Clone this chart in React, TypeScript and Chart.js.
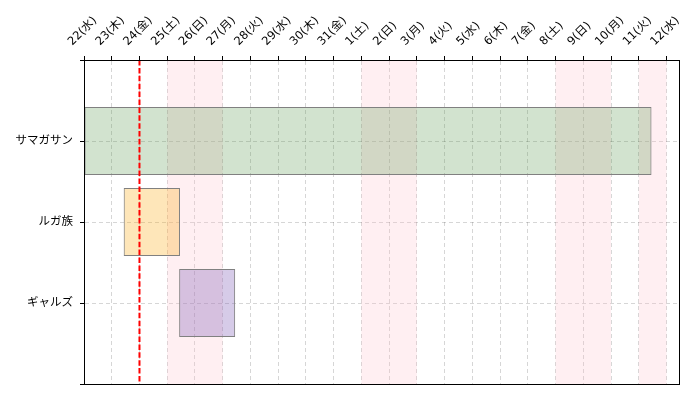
import { useEffect, useRef } from 'react';
import { Chart, registerables } from 'chart.js';

Chart.register(...registerables);

// Day columns shown along the top axis
const dayLabels = [
  '22(水)', '23(木)', '24(金)', '25(土)', '26(日)', '27(月)', '28(火)', '29(水)',
  '30(木)', '31(金)', '1(土)', '2(日)', '3(月)', '4(火)', '5(水)', '6(木)',
  '7(金)', '8(土)', '9(日)', '10(月)', '11(火)', '12(水)',
];
// Days off (shaded columns)
const offDays = ['25(土)', '26(日)', '1(土)', '2(日)', '8(土)', '9(日)', '11(火)'];
// Current day marker
const todayLabel = '24(金)';
// Timeline end, in days from the first column
const axisEnd = 21.45;

// Schedule rows: start / end in days from the first column
const taskNames = ['サマガサン', 'ルガ族', 'ギャルズ'];
const taskStart = [0, 1.43, 3.43];
const taskEnd = [20.46, 3.46, 5.45];
const taskColors = ['rgba(75,143,63,0.25)', 'rgba(252,172,22,0.3)', 'rgba(118,82,178,0.3)'];

const FONT = '"DejaVu Sans", "Noto Sans CJK JP", sans-serif';
const FONT_SIZE = 11.5;

const offDayBands = {
  id: 'offDayBands',
  beforeDatasetsDraw(chart: any) {
    const { ctx, chartArea: a, scales } = chart;
    const x = scales.x;
    ctx.save();
    ctx.fillStyle = 'rgba(255,192,203,0.25)';
    offDays.forEach((d) => {
      const i = dayLabels.indexOf(d);
      const x0 = x.getPixelForValue(i);
      const x1 = x.getPixelForValue(i + 1);
      ctx.fillRect(x0, a.top, x1 - x0, a.bottom - a.top);
    });
    ctx.restore();
  },
};

const todayLine = {
  id: 'todayLine',
  afterDatasetsDraw(chart: any) {
    const { ctx, chartArea: a, scales } = chart;
    const px = scales.x.getPixelForValue(dayLabels.indexOf(todayLabel));
    ctx.save();
    ctx.strokeStyle = '#ff0000';
    ctx.lineWidth = 2;
    ctx.setLineDash([5.5, 2.4]);
    ctx.beginPath();
    ctx.moveTo(px, a.top);
    ctx.lineTo(px, a.bottom);
    ctx.stroke();
    ctx.restore();
  },
};

const frame = {
  id: 'frame',
  afterDraw(chart: any) {
    const { ctx, chartArea: a } = chart;
    const l = Math.round(a.left) + 0.5;
    const t = Math.round(a.top) + 0.5;
    const r = Math.round(a.right) + 0.5;
    const b = Math.round(a.bottom) + 0.5;
    ctx.save();
    ctx.strokeStyle = '#000';
    ctx.lineWidth = 1;
    ctx.setLineDash([]);
    ctx.strokeRect(l, t, r - l, b - t);
    ctx.restore();
  },
};

const gridOpts = {
  color: 'rgba(0,0,0,0.16)',
  lineWidth: 1,
  tickLength: 4,
  tickColor: '#000',
  tickWidth: 1,
  tickBorderDash: [],
  offset: false,
};
const borderOpts = { display: true, color: '#000', width: 1, dash: [4, 3] };

export default function App() {
  const ref = useRef<HTMLCanvasElement | null>(null);

  useEffect(() => {
    document.body.style.margin = '0';
    const canvas = ref.current;
    if (!canvas) return;

    const rows = taskNames.map((_, i) => [taskStart[i], taskEnd[i]]);

    const chart = new Chart(canvas, {
      type: 'bar',
      data: {
        labels: ['', ...taskNames, ''],
        datasets: [
          {
            data: [null, ...rows, null] as any,
            backgroundColor: ['rgba(0,0,0,0)', ...taskColors, 'rgba(0,0,0,0)'],
            borderColor: '#808080',
            borderWidth: 1,
            borderSkipped: false,
            barPercentage: 0.84,
            categoryPercentage: 1,
          },
        ],
      },
      options: {
        indexAxis: 'y',
        responsive: false,
        animation: false,
        layout: { padding: { top: 0, left: 0, right: 21, bottom: 16 } },
        font: { family: FONT, size: FONT_SIZE },
        plugins: { legend: { display: false }, tooltip: { enabled: false } },
        scales: {
          x: {
            type: 'linear',
            position: 'top',
            min: 0,
            max: axisEnd,
            afterBuildTicks: (s: any) => {
              s.ticks = dayLabels.map((_, i) => ({ value: i }));
            },
            afterFit: (s: any) => {
              s.height = 60;
              s.paddingLeft = 0;
              s.paddingRight = 0;
            },
            ticks: {
              autoSkip: false,
              minRotation: 45,
              maxRotation: 45,
              labelOffset: -4,
              padding: 7.5,
              color: '#000',
              font: { family: FONT, size: FONT_SIZE },
              callback: (v: any) => dayLabels[Number(v)] ?? '',
            },
            grid: gridOpts,
            border: borderOpts,
          },
          y: {
            type: 'category',
            offset: false,
            afterFit: (s: any) => {
              s.width = 84;
              s.paddingTop = 0;
              s.paddingBottom = 0;
            },
            ticks: {
              autoSkip: false,
              padding: 7,
              color: '#000',
              font: { family: FONT, size: FONT_SIZE },
            },
            grid: gridOpts,
            border: borderOpts,
          },
        },
      } as any,
      plugins: [offDayBands, todayLine, frame],
    });

    return () => chart.destroy();
  }, []);

  return (
    <canvas
      ref={ref}
      width={700}
      height={400}
      style={{ display: 'block', width: 700, height: 400 }}
    />
  );
}
